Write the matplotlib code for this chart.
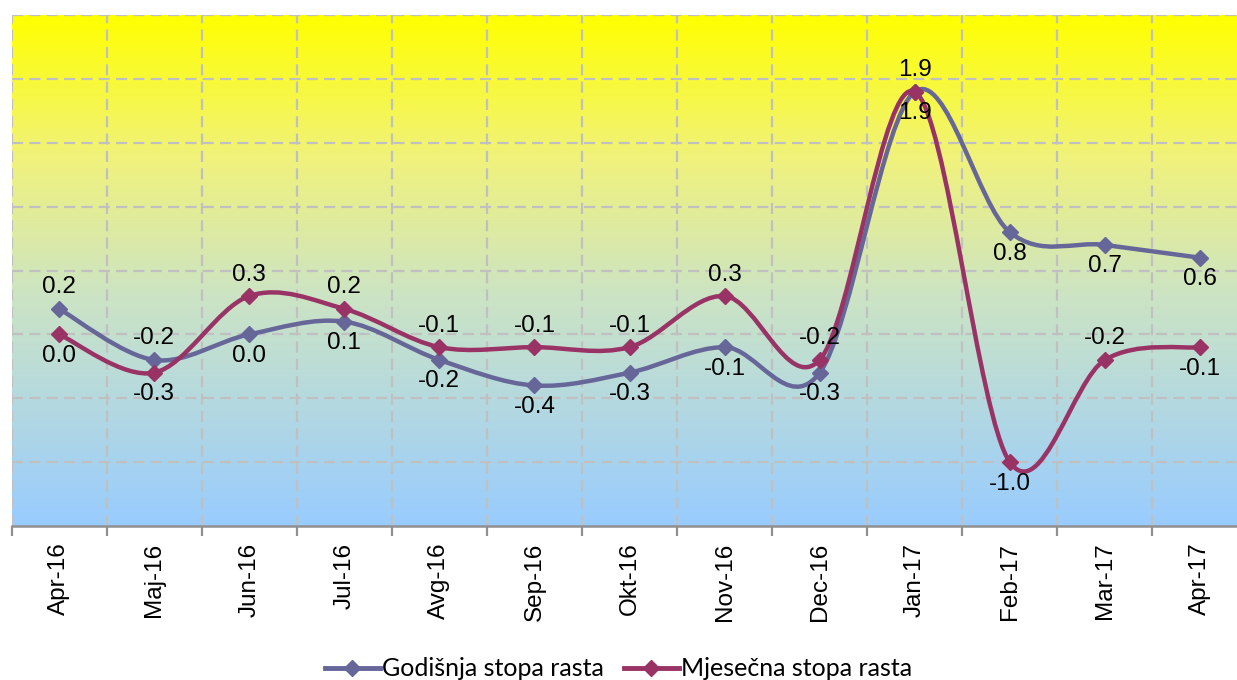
import numpy as np
import matplotlib
matplotlib.use("Agg")
import matplotlib.pyplot as plt
from matplotlib.path import Path
from matplotlib.patches import PathPatch
from matplotlib.colors import LinearSegmentedColormap
from matplotlib.lines import Line2D

months = ["Apr-16", "Maj-16", "Jun-16", "Jul-16", "Avg-16", "Sep-16", "Okt-16",
          "Nov-16", "Dec-16", "Jan-17", "Feb-17", "Mar-17", "Apr-17"]
godisnja = [0.2, -0.2, 0.0, 0.1, -0.2, -0.4, -0.3, -0.1, -0.3, 1.9, 0.8, 0.7, 0.6]
mjesecna = [0.0, -0.3, 0.3, 0.2, -0.1, -0.1, -0.1, 0.3, -0.2, 1.9, -1.0, -0.2, -0.1]

# label placement: 1 = above the point, -1 = below
god_pos = [1, 1, -1, -1, -1, -1, -1, -1, -1, -1, -1, -1, -1]
mje_pos = [-1, -1, 1, 1, 1, 1, 1, 1, 1, 1, -1, 1, -1]

col_god = "#666699"
col_mje = "#993366"

plt.rcParams["font.family"] = ["Liberation Sans", "DejaVu Sans"]


def smooth_path(xs, ys):
    # excel-style smoothed line: cubic bezier segments, catmull-rom control points
    pts = np.column_stack([xs, ys]).astype(float)
    n = len(pts)
    verts = [pts[0]]
    codes = [Path.MOVETO]
    for i in range(n - 1):
        p0 = pts[i - 1] if i > 0 else pts[i]
        p1 = pts[i]
        p2 = pts[i + 1]
        p3 = pts[i + 2] if i + 2 < n else pts[i + 1]
        c1 = p1 + (p2 - p0) / 6.0
        c2 = p2 - (p3 - p1) / 6.0
        verts += [c1, c2, p2]
        codes += [Path.CURVE4] * 3
    return Path(verts, codes)


fig = plt.figure(figsize=(12.37, 6.8), dpi=100)
ax = fig.add_axes([11.5 / 1237, 1 - 526 / 680, 1236 / 1237, 511 / 680])

x = np.arange(len(months))
ax.set_xlim(-0.5, len(months) - 0.5)
ax.set_ylim(-1.5, 2.5)

# gradient background
cmap = LinearSegmentedColormap.from_list(
    "bg", [(0.0, "#99CCFF"), (0.45, "#CCE4C4"), (0.72, "#F0F27C"), (1.0, "#FFFF00")])
grad = np.linspace(0, 1, 256).reshape(-1, 1)
ax.imshow(grad, cmap=cmap, aspect="auto", origin="lower",
          extent=[-0.5, len(months) - 0.5, -1.5, 2.5], zorder=0)

# grid
ax.set_yticks(np.arange(-1.5, 2.51, 0.5))
ax.set_xticks(x)
ax.set_xticks(np.arange(-0.5, len(months), 1.0), minor=True)
ax.grid(False)
for yv in np.arange(-1.0, 2.51, 0.5):
    ax.axhline(yv, color="#C0C0C0", lw=1.6, ls=(0, (5, 2.8)), zorder=1)
for xv in np.arange(-0.5, len(months), 1.0):
    ax.axvline(xv, color="#C0C0C0", lw=1.6, ls=(0, (5, 2.8)), zorder=1)

for s in ["left", "right", "top"]:
    ax.spines[s].set_visible(False)
ax.spines["bottom"].set_color("#909090")
ax.spines["bottom"].set_linewidth(1.8)
ax.spines["bottom"].set_zorder(3)

ax.tick_params(axis="y", left=False, labelleft=False)
ax.tick_params(axis="x", which="major", length=0, pad=12, labelsize=17.5,
               rotation=90)
ax.tick_params(axis="x", which="minor", length=7, width=1.6, color="#909090",
               direction="out")
ax.set_xticklabels(months)

for vals, col in [(godisnja, col_god), (mjesecna, col_mje)]:
    ax.add_patch(PathPatch(smooth_path(x, vals), facecolor="none", edgecolor=col,
                           lw=3.2, zorder=4, capstyle="round"))
    ax.plot(x, vals, ls="none", marker="D", ms=8.5, color=col, zorder=5)

for vals, pos in [(godisnja, god_pos), (mjesecna, mje_pos)]:
    for xi, v, p in zip(x, vals, pos):
        ax.annotate(f"{v:.1f}", (xi, v), xytext=(0, 15.5 * p), textcoords="offset points",
                    ha="center", va="center", fontsize=17.5, color="black", zorder=6)

handles = [Line2D([], [], color=col_god, lw=3.5, marker="D", ms=8.5),
           Line2D([], [], color=col_mje, lw=3.5, marker="D", ms=8.5)]
fig.legend(handles, ["Godišnja stopa rasta", "Mjesečna stopa rasta"], loc="center",
           bbox_to_anchor=(0.5, 11 / 680), ncol=2, frameon=False, handlelength=2.2,
           handletextpad=0.1, columnspacing=0.8,
           prop={"family": ["Lato", "DejaVu Sans"], "size": 18})

fig.savefig("out.png", dpi=100)
